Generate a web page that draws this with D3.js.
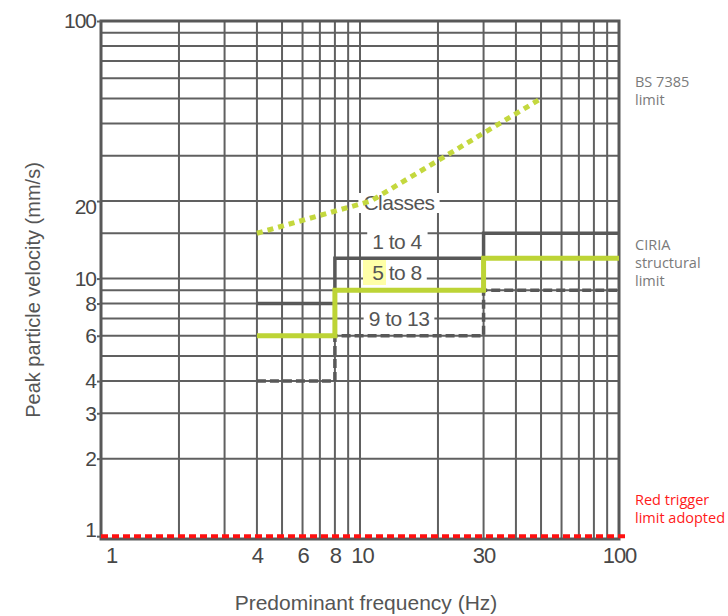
<!DOCTYPE html>
<html>
<head>
<meta charset="utf-8">
<script src="https://cdn.jsdelivr.net/npm/d3@7"></script>
<style>
  html, body { margin: 0; padding: 0; background: #fff; }
  svg { display: block; }
</style>
</head>
<body>
<div class="chart"></div>
<script>
// frequency steps of the class lines (Hz)
const classFreq = [4, 8, 30, 100]
// peak particle velocity per class (mm/s), last value held to 100 Hz
const class1to4 = [8, 12, 15, 15]
const class5to8 = [6, 9, 12, 12]
const class9to13 = [4, 6, 9, 9]

// BS 7385 limit curve
const bsFreq = [4, 11, 50]
const bsVel = [15, 20, 50]

// red trigger limit
const redFreq = [1, 107]
const redVel = [1, 1]

// ticks and grid
const xTicks = [1, 4, 6, 8, 10, 30, 100]
const yTicks = [1, 2, 3, 4, 6, 8, 10, 20, 100]
const xGrid = [2, 3, 4, 5, 6, 7, 8, 9, 10, 20, 30, 40, 50, 60, 70, 80, 90]
const yGrid = [2, 3, 4, 5, 6, 7, 8, 9, 10, 15, 20, 30, 40, 50, 60, 70, 80, 90]

const width = 728
const height = 616
const gridColor = '#606060'
const textColor = '#474747'
const green = '#bdd436'
const yMin = 0.975

const svg = d3.select('.chart').append('svg')
    .attr('width', width)
    .attr('height', height)

// log-log scales
const x = d3.scaleLog().domain([1, 100]).range([101, 619])
const y = d3.scaleLog().domain([yMin, 100]).range([539, 21])

// grid
svg.append('g').selectAll('line').data(xGrid).enter().append('line')
    .attr('x1', d => x(d)).attr('x2', d => x(d))
    .attr('y1', y(100)).attr('y2', y(yMin))
    .attr('stroke', gridColor).attr('stroke-width', 2)

svg.append('g').selectAll('line').data(yGrid).enter().append('line')
    .attr('x1', x(1)).attr('x2', x(100))
    .attr('y1', d => y(d)).attr('y2', d => y(d))
    .attr('stroke', gridColor).attr('stroke-width', 2)

svg.append('rect')
    .attr('x', x(1)).attr('y', y(100))
    .attr('width', x(100) - x(1)).attr('height', y(yMin) - y(100))
    .attr('fill', 'none').attr('stroke', '#585858').attr('stroke-width', 3)

// axes
const yAxis = svg.append('g')
    .attr('transform', `translate(${x(1)},0)`)
    .call(d3.axisLeft(y).tickValues(yTicks).tickSize(4).tickPadding(1).tickFormat(d3.format('d')))
yAxis.select('.domain').remove()
yAxis.selectAll('line').attr('stroke', gridColor).attr('stroke-width', 2)
yAxis.selectAll('text')
    .attr('font-family', 'Liberation Sans, Arial, sans-serif')
    .attr('font-size', 21).attr('letter-spacing', -1).attr('fill', textColor)
yAxis.selectAll('.tick').filter(d => d === 1).select('text').attr('y', -6)
yAxis.selectAll('.tick').filter(d => d === 20).select('text').attr('y', 6)

const xAxis = svg.append('g')
    .attr('transform', `translate(0,${y(yMin)})`)
    .call(d3.axisBottom(x).tickValues(xTicks).tickSize(0).tickPadding(8).tickFormat(d3.format('d')))
xAxis.select('.domain').remove()
xAxis.selectAll('text')
    .attr('font-family', 'Liberation Sans, Arial, sans-serif')
    .attr('font-size', 22).attr('letter-spacing', -1).attr('fill', textColor)
xAxis.selectAll('.tick').filter(d => d === 1).select('text').attr('x', 10)
xAxis.selectAll('.tick').filter(d => d === 10).select('text').attr('x', 2)

// axis titles
svg.append('text')
    .attr('transform', 'translate(40,290) rotate(-90)')
    .attr('text-anchor', 'middle')
    .attr('font-family', 'Liberation Sans, Arial, sans-serif')
    .attr('font-size', 20).attr('fill', '#555')
    .text('Peak particle velocity (mm/s)')

svg.append('text')
    .attr('x', 366).attr('y', 610)
    .attr('text-anchor', 'middle')
    .attr('font-family', 'Liberation Sans, Arial, sans-serif')
    .attr('font-size', 21).attr('fill', '#555')
    .text('Predominant frequency (Hz)')

// class labels with white knock-out
const labels = [
    { t: 'Classes', cx: 399, by: 210 },
    { t: '1 to 4', cx: 397, by: 249 },
    { t: '5 to 8', cx: 397, by: 280 },
    { t: '9 to 13', cx: 399, by: 326 }
]
const lg = svg.append('g')
labels.forEach(l => {
    const r = lg.append('rect').attr('fill', '#fff')
    const t = lg.append('text')
        .attr('x', l.cx).attr('y', l.by)
        .attr('text-anchor', 'middle')
        .attr('font-family', 'Liberation Sans, Arial, sans-serif')
        .attr('font-size', 21).attr('letter-spacing', -0.5).attr('fill', '#555')
        .text(l.t)
    const b = t.node().getBBox()
    r.attr('x', b.x - 5).attr('y', b.y + 2).attr('width', b.width + 10).attr('height', b.height - 3)
})
// yellow highlight behind the "5"
lg.insert('rect', 'text:nth-of-type(3)')
    .attr('x', 363).attr('y', 260).attr('width', 23).attr('height', 25)
    .attr('fill', '#ffffa8')

// class lines
const step = d3.line()
    .x(d => x(d[0]))
    .y(d => y(d[1]))
    .curve(d3.curveStepAfter)

svg.append('path')
    .datum(classFreq.map((f, i) => [f, class9to13[i]]))
    .attr('d', step)
    .attr('fill', 'none').attr('stroke', '#585858').attr('stroke-width', 3.5)
    .attr('stroke-dasharray', '9,4')

svg.append('path')
    .datum(classFreq.map((f, i) => [f, class1to4[i]]))
    .attr('d', step)
    .attr('fill', 'none').attr('stroke', '#585858').attr('stroke-width', 3.5)

svg.append('path')
    .datum(classFreq.map((f, i) => [f, class5to8[i]]))
    .attr('d', step)
    .attr('fill', 'none').attr('stroke', green).attr('stroke-width', 5)

// BS 7385 limit
const line = d3.line()
    .x(d => x(d[0]))
    .y(d => y(d[1]))

svg.append('path')
    .datum(bsFreq.map((f, i) => [f, bsVel[i]]))
    .attr('d', line)
    .attr('fill', 'none').attr('stroke', '#c4d83e').attr('stroke-width', 5)
    .attr('stroke-dasharray', '6,5')

// red trigger limit
svg.append('path')
    .datum(redFreq.map((f, i) => [f, redVel[i]]))
    .attr('d', line)
    .attr('fill', 'none').attr('stroke', '#ff1010').attr('stroke-width', 4)
    .attr('stroke-dasharray', '7,4')

// right-hand notes
const notes = [
    { lines: ['BS 7385', 'limit'], y: 87, color: '#7a7a7a' },
    { lines: ['CIRIA', 'structural', 'limit'], y: 250, color: '#7a7a7a' },
    { lines: ['Red trigger', 'limit adopted'], y: 505, color: '#ff1a1a' }
]
notes.forEach(n => {
    const t = svg.append('text')
        .attr('x', 635).attr('y', n.y)
        .attr('font-family', 'Open Sans, Noto Sans, sans-serif')
        .attr('font-size', 14.5).attr('fill', n.color)
    n.lines.forEach((s, i) => {
        t.append('tspan').attr('x', 635).attr('dy', i === 0 ? 0 : 18).text(s)
    })
})
</script>
</body>
</html>
